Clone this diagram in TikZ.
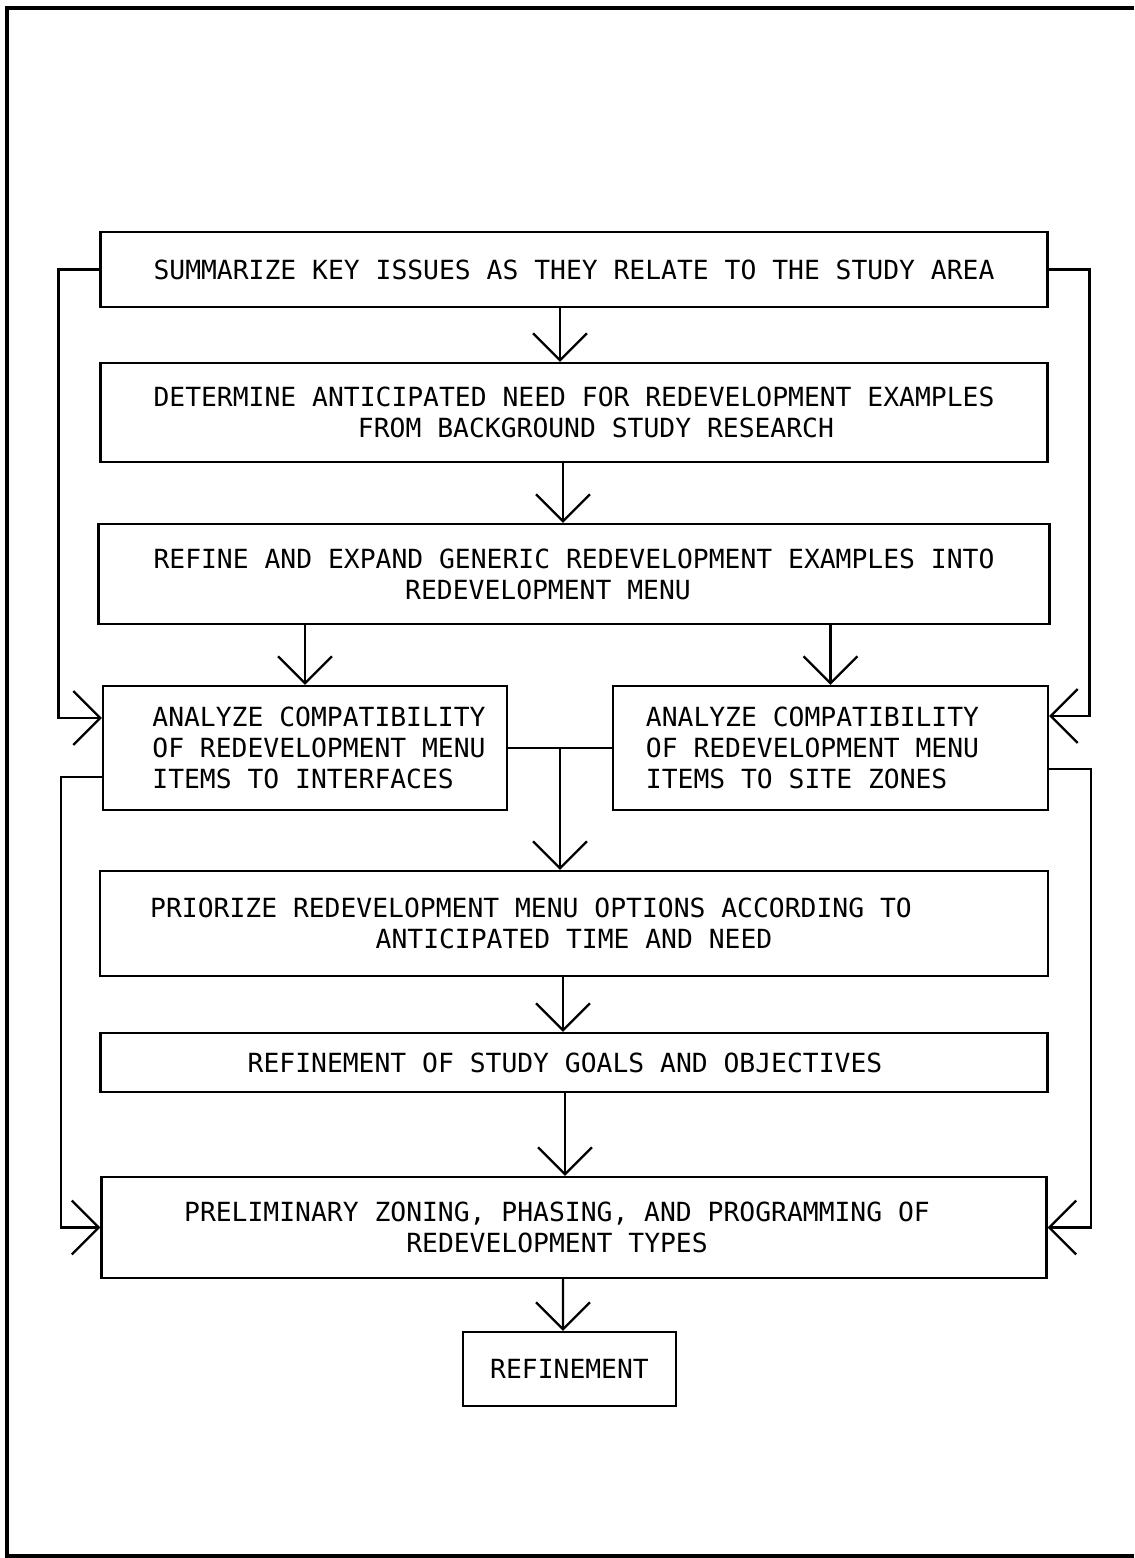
\documentclass[tikz,border=0pt]{standalone}
\usepackage{fontspec}
\setmonofont{DejaVu Sans Mono}
\usepackage{tikz}
\usetikzlibrary{
	arrows.meta,
	calc}

\begin{document}
\begin{tikzpicture}[x=0.02cm,y=-0.02cm,
    box/.style={draw,line width=1.3pt,align=center,inner sep=0pt,
      font=\ttfamily\fontsize{15pt}{17.6pt}\selectfont},
    flow/.style={line width=1.3pt,-{Straight Barb[length=0.54cm,width=1.08cm]}}]
  \useasboundingbox (0,0) rectangle (1134,1558);
  \draw [line width=2pt] (1134,8) -- (7,8) -- (7,1556) -- (1134,1556);

      \node[box,minimum width=18.94cm,minimum height=1.5cm] (SKI0) at (574,269.5)
        {SUMMARIZE KEY ISSUES AS THEY RELATE TO THE STUDY AREA};

      \node[box,minimum width=18.94cm,minimum height=1.98cm] (DAN1) at (574,412.5)
        {DETERMINE ANTICIPATED NEED FOR REDEVELOPMENT EXAMPLES\\
        \hspace*{0.88cm}FROM BACKGROUND STUDY RESEARCH};

      \node[box,minimum width=19.02cm,minimum height=2cm] (RGE2) at (574,574)
        {REFINE AND EXPAND GENERIC REDEVELOPMENT EXAMPLES INTO\\
        REDEVELOPMENT MENU\hspace*{1.04cm}};

      \node[box,align=left,minimum width=8.08cm,minimum height=2.48cm] (ACI3) at (305,748)
        {\hspace*{0.56cm}ANALYZE COMPATIBILITY\\\hspace*{0.56cm}OF REDEVELOPMENT MENU\\
        \hspace*{0.56cm}ITEMS TO INTERFACES};
      \node[box,align=left,minimum width=8.7cm,minimum height=2.48cm] (ACS3) at (830.5,748)
        {ANALYZE COMPATIBILITY\hspace*{0.72cm}\\OF REDEVELOPMENT MENU\\ITEMS TO SITE ZONES};

      \node[box,minimum width=18.96cm,minimum height=2.1cm] (PRM4) at (574,923.5)
        {PRIORIZE REDEVELOPMENT MENU OPTIONS ACCORDING TO\hspace*{1.72cm}\\
        ANTICIPATED TIME AND NEED};

      \node[box,minimum width=18.94cm,minimum height=1.18cm] (RSG5) at (574,1062.5)
        {REFINEMENT OF STUDY GOALS AND OBJECTIVES\hspace*{0.36cm}};

      \node[box,minimum width=18.9cm,minimum height=2.02cm] (PZP6) at (574,1227.5)
        {PRELIMINARY ZONING, PHASING, AND PROGRAMMING OF\hspace*{0.68cm}\\
        REDEVELOPMENT TYPES\hspace*{0.68cm}};

      \node[box,minimum width=4.26cm,minimum height=1.48cm] (R7) at (569.5,1369)
        {REFINEMENT};

      \coordinate (J) at ($(ACI3.east)!0.5!(ACS3.west)$);

      \draw [flow] ([xshift=-0.28cm]SKI0.south) to ([xshift=-0.28cm]DAN1.north);
      \draw [flow] ([xshift=-0.22cm]DAN1.south) to ([xshift=-0.22cm]RGE2.north);
      \draw [flow] (RGE2.south -| ACI3.north)   to (ACI3.north);
      \draw [flow] (RGE2.south -| ACS3.north)   to (ACS3.north);
      \draw [line width=1.3pt] (ACI3.east)      to (ACS3.west);
      \draw [flow] (J)                          to (J |- PRM4.north);
      \draw [flow] ([xshift=-0.22cm]PRM4.south) to ([xshift=-0.22cm]RSG5.north);
      \draw [flow] ([xshift=-0.18cm]RSG5.south) to ([xshift=-0.18cm]PZP6.north);
      \draw [flow] ([xshift=-0.22cm]PZP6.south) to ([xshift=-0.13cm]R7.north);

      \draw [flow] (SKI0.west) -- ++(-41,0) |- ([yshift=0.6cm]ACI3.west);
      \draw [flow] ([yshift=-0.58cm]ACI3.west) -- ++(-41,0) |- (PZP6.west);
      \draw [flow] (SKI0.east) -- ++(41,0) |- ([yshift=0.64cm]ACS3.east);
      \draw [flow] ([yshift=-0.42cm]ACS3.east) -- ++(42,0) |- (PZP6.east);
\end{tikzpicture}
\end{document}
